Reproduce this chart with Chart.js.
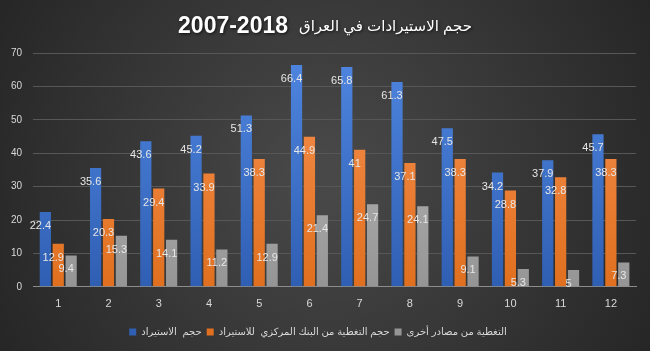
<!DOCTYPE html>
<html>
<head>
<meta charset="utf-8">
<script src="https://cdn.jsdelivr.net/npm/chart.js@4.4.0/dist/chart.umd.min.js"></script>
<style>
  html, body { margin: 0; padding: 0; background: #333; }
  #wrap { width: 650px; height: 351px; }
</style>
</head>
<body>
<div id="wrap"><canvas id="imports-chart" width="650" height="351"></canvas></div>
<script>
// categories (years numbered 1..12)
const labels = ['1', '2', '3', '4', '5', '6', '7', '8', '9', '10', '11', '12']
// series values
const importVolume = [22.4, 35.6, 43.6, 45.2, 51.3, 66.4, 65.8, 61.3, 47.5, 34.2, 37.9, 45.7]
const centralBankCover = [12.9, 20.3, 29.4, 33.9, 38.3, 44.9, 41, 37.1, 38.3, 28.8, 32.8, 38.3]
const otherSources = [9.4, 15.3, 14.1, 11.2, 12.9, 21.4, 24.7, 24.1, 9.1, 5.3, 5, 7.3]
const seriesNames = ['حجم  الاستيراد', 'حجم التغطية من البنك المركزي  للاستيراد', 'التغطية من مصادر أخرى']
const titleArabic = 'حجم الاستيرادات في العراق'
const titleYears = '2007-2018'

const font = "'Liberation Sans', 'DejaVu Sans', Arial, sans-serif"

// dark radial background like the excel theme
const bgPlugin = {
    id: 'bg',
    beforeDraw(chart) {
        const c = chart.ctx
        const w = chart.width, h = chart.height
        const g = c.createRadialGradient(w / 2, h / 2, 20, w / 2, h / 2, w * 0.6)
        g.addColorStop(0, '#484848')
        g.addColorStop(1, '#242424')
        c.save()
        c.fillStyle = g
        c.fillRect(0, 0, w, h)
        c.restore()
    }
}

// title drawn in two parts: bold years on the left, lighter arabic text on the right
const titlePlugin = {
    id: 'twoPartTitle',
    afterDraw(chart) {
        const tb = chart.titleBlock
        const c = chart.ctx
        const y = tb.top + 5 + 14
        c.save()
        c.fillStyle = '#ffffff'
        c.textBaseline = 'middle'
        c.shadowColor = 'rgba(0,0,0,0.7)'
        c.shadowBlur = 3
        c.shadowOffsetX = 1
        c.shadowOffsetY = 1
        const fYears = "bold 23px " + font
        const fArabic = "15px " + font
        c.font = fYears
        const wy = c.measureText(titleYears).width
        c.font = fArabic
        const wa = c.measureText(titleArabic).width
        const gap = 11
        const x0 = (chart.width - (wy + gap + wa)) / 2
        c.textAlign = 'left'
        c.font = fYears
        c.fillText(titleYears, x0, y)
        c.font = fArabic
        c.fillText(titleArabic, x0 + wy + gap, y)
        c.restore()
    }
}

// value labels near the top of each bar, shifted a bit left
const valueLabels = {
    id: 'valueLabels',
    afterDatasetsDraw(chart) {
        const c = chart.ctx
        c.save()
        c.font = '11px ' + font
        c.fillStyle = '#e6e6e6'
        c.textAlign = 'center'
        c.textBaseline = 'middle'
        chart.data.datasets.forEach((ds, i) => {
            chart.getDatasetMeta(i).data.forEach((bar, j) => {
                c.fillText(String(ds.data[j]), bar.x - 5, bar.y + 14)
            })
        })
        c.restore()
    }
}

function grad(top, bottom) {
    return (ctx) => {
        const area = ctx.chart.chartArea
        if (!area) return bottom
        const g = ctx.chart.ctx.createLinearGradient(0, area.top, 0, area.bottom)
        g.addColorStop(0, top)
        g.addColorStop(1, bottom)
        return g
    }
}

const datasets = [
    { label: seriesNames[0], data: importVolume, backgroundColor: grad('#4f86e0', '#2f5fb3') },
    { label: seriesNames[1], data: centralBankCover, backgroundColor: grad('#f79050', '#e0701f') },
    { label: seriesNames[2], data: otherSources, backgroundColor: grad('#c0c0c0', '#959595') }
].map(d => Object.assign(d, { barPercentage: 0.87, categoryPercentage: 0.77 }))

new Chart(document.getElementById('imports-chart'), {
    type: 'bar',
    data: { labels: labels, datasets: datasets },
    options: {
        responsive: false,
        animation: false,
        layout: { padding: { left: 0, right: 14, top: 8, bottom: 4 } },
        plugins: {
            title: {
                // reserves the space; the visible text comes from twoPartTitle
                display: true,
                text: titleYears,
                color: 'rgba(0,0,0,0)',
                font: { family: font, size: 20, weight: 'bold' },
                padding: { top: 5, bottom: 16 }
            },
            legend: {
                position: 'bottom',
                labels: {
                    color: '#d9d9d9',
                    font: { family: font, size: 10 },
                    boxWidth: 7,
                    boxHeight: 7,
                    padding: 5
                }
            },
            tooltip: { enabled: false }
        },
        scales: {
            x: {
                grid: { display: false, drawTicks: false },
                border: { color: '#8c8c8c' },
                ticks: { color: '#d9d9d9', font: { family: font, size: 11 }, padding: 11 }
            },
            y: {
                min: 0,
                max: 70,
                ticks: { stepSize: 10, color: '#d9d9d9', font: { family: font, size: 10 }, padding: 11 },
                grid: { color: '#575757', drawTicks: false },
                border: { display: false }
            }
        }
    },
    plugins: [bgPlugin, titlePlugin, valueLabels]
})
</script>
</body>
</html>
